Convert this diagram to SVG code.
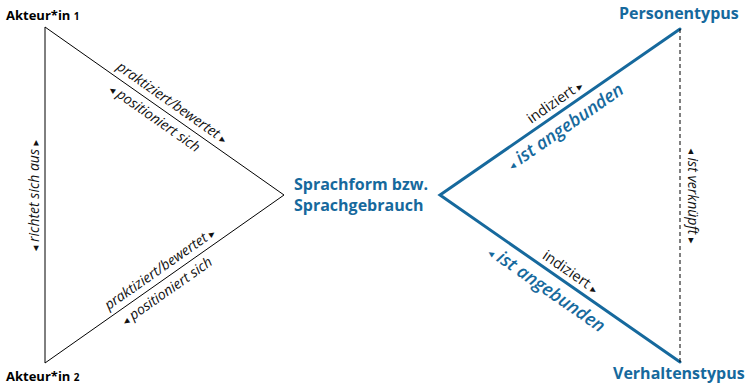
<svg xmlns="http://www.w3.org/2000/svg" width="749" height="384" viewBox="0 0 749 384">
<style>
.bg{fill:#ffffff}
.thin{fill:none;stroke:#000;stroke-width:1}
.blue{fill:none;stroke:#16699d;stroke-width:3;stroke-linecap:round;stroke-linejoin:miter}
.dash{fill:none;stroke:#000;stroke-width:1;stroke-dasharray:4 3}
.title{font-family:"Open Sans","Noto Sans",sans-serif;font-weight:700;font-size:13px;fill:#000}
.btitle{font-family:"Open Sans","Noto Sans",sans-serif;font-weight:700;font-size:16px;fill:#16699d}
.lbl{font-family:"Open Sans","Noto Sans",sans-serif;font-style:italic;font-size:14px;fill:#111;text-anchor:middle}
.ind{font-family:"Open Sans","Noto Sans",sans-serif;font-size:14.5px;fill:#111;text-anchor:middle}
.bl{font-family:"Open Sans","Noto Sans",sans-serif;font-style:italic;font-weight:600;font-size:18px;fill:#16699d;text-anchor:middle}
.tri{font-family:"DejaVu Sans",sans-serif;font-style:normal;font-weight:400;font-size:11px}
.small{font-size:10px}
</style>
<rect class="bg" x="0" y="0" width="749" height="384"/>
<g id="connectors">
  <polyline class="thin" points="284,195 45,27 45,363 284,195"/>
  <polyline class="blue" points="680,29 440,195 680,362"/>
  <line class="dash" x1="680" y1="29" x2="680" y2="362"/>
</g>
<g id="akteur1"><text class="title" x="6" y="19.5">Akteur*in <tspan class="small">1</tspan></text></g>
<g id="akteur2"><text class="title" x="6" y="380.5">Akteur*in <tspan class="small">2</tspan></text></g>
<g id="sprachform"><text class="btitle" x="294" y="190">Sprachform bzw.</text><text class="btitle" x="294" y="210.5">Sprachgebrauch</text></g>
<g id="personentypus"><text class="btitle" x="619" y="18.5">Personentypus</text></g>
<g id="verhaltenstypus"><text class="btitle" x="613" y="378.5">Verhaltenstypus</text></g>
<g id="edge-labels">
  <g transform="translate(164.5,111) rotate(35.1)">
    <text class="lbl" x="1.5" y="-6.5">praktiziert/bewertet <tspan class="tri">▸</tspan></text>
    <text class="lbl" x="-4" y="16"><tspan class="tri">◂</tspan> positioniert sich</text>
  </g>
  <g transform="translate(164.5,279) rotate(-35.1)">
    <text class="lbl" x="2" y="-6.5">praktiziert/bewertet <tspan class="tri">▸</tspan></text>
    <text class="lbl" x="-5" y="16"><tspan class="tri">◂</tspan> positioniert sich</text>
  </g>
  <g transform="translate(38.5,195.5) rotate(-90)">
    <text class="lbl" x="0" y="0"><tspan class="tri">◂</tspan> richtet sich aus <tspan class="tri">▸</tspan></text>
  </g>
  <g transform="translate(560,112) rotate(-34.7)">
    <text class="ind" x="1.5" y="-6.5">indiziert <tspan class="tri">▸</tspan></text>
    <text class="bl" x="-4" y="21"><tspan class="tri">◂</tspan> ist angebunden</text>
  </g>
  <g transform="translate(560,278.5) rotate(34.83)">
    <text class="ind" x="5" y="-6.5">indiziert <tspan class="tri">▸</tspan></text>
    <text class="bl" x="-5" y="22"><tspan class="tri">◂</tspan> ist angebunden</text>
  </g>
  <g transform="translate(687.5,196) rotate(90)">
    <text class="lbl" x="0" y="0"><tspan class="tri">◂</tspan> ist verknüpft <tspan class="tri">▸</tspan></text>
  </g>
</g>
</svg>
